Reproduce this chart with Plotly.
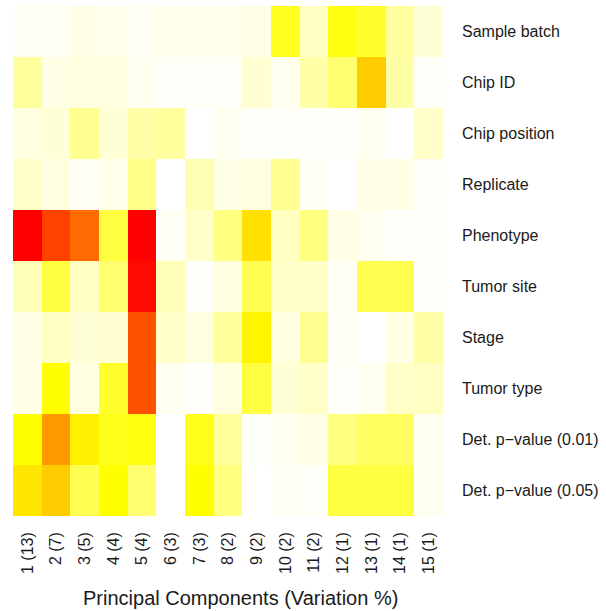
import plotly.graph_objects as go

components = ["1 (13)", "2 (7)", "3 (5)", "4 (4)", "5 (4)", "6 (3)", "7 (3)", "8 (2)",
              "9 (2)", "10 (2)", "11 (2)", "12 (1)", "13 (1)", "14 (1)", "15 (1)"]
variables = ["Sample batch", "Chip ID", "Chip position", "Replicate", "Phenotype",
             "Tumor site", "Stage", "Tumor type", "Det. p\u2212value (0.01)", "Det. p\u2212value (0.05)"]

# association strength (0 = none/white, 0.5 = yellow, 1 = red)
sample_batch = [0.02, 0.02, 0.05, 0.04, 0.02, 0.04, 0.04, 0.04, 0.05, 0.44, 0.12, 0.47, 0.41, 0.19, 0.08]
chip_id      = [0.19, 0.05, 0.06, 0.06, 0.03, 0.01, 0.01, 0.01, 0.09, 0.03, 0.17, 0.28, 0.60, 0.17, 0.01]
chip_pos     = [0.06, 0.08, 0.22, 0.08, 0.17, 0.19, 0.00, 0.03, 0.01, 0.01, 0.01, 0.01, 0.03, 0.00, 0.11]
replicate    = [0.11, 0.06, 0.02, 0.04, 0.23, 0.00, 0.15, 0.05, 0.06, 0.22, 0.02, 0.00, 0.05, 0.05, 0.01]
phenotype    = [1.00, 0.87, 0.79, 0.37, 1.00, 0.02, 0.11, 0.25, 0.56, 0.12, 0.25, 0.05, 0.03, 0.01, 0.01]
tumor_site   = [0.14, 0.37, 0.12, 0.28, 0.98, 0.14, 0.01, 0.06, 0.34, 0.11, 0.11, 0.02, 0.34, 0.34, 0.01]
stage        = [0.05, 0.12, 0.08, 0.09, 0.84, 0.11, 0.06, 0.19, 0.52, 0.06, 0.22, 0.02, 0.00, 0.05, 0.17]
tumor_type   = [0.05, 0.50, 0.06, 0.41, 0.84, 0.03, 0.01, 0.06, 0.37, 0.08, 0.11, 0.01, 0.03, 0.11, 0.12]
det_p_001    = [0.50, 0.70, 0.53, 0.45, 0.47, 0.00, 0.45, 0.20, 0.01, 0.03, 0.05, 0.25, 0.31, 0.31, 0.03]
det_p_005    = [0.55, 0.60, 0.34, 0.50, 0.28, 0.00, 0.50, 0.25, 0.00, 0.02, 0.01, 0.37, 0.37, 0.37, 0.03]

z = [sample_batch, chip_id, chip_pos, replicate, phenotype,
     tumor_site, stage, tumor_type, det_p_001, det_p_005]

font = "Liberation Sans, Arial, Helvetica, sans-serif"

fig = go.Figure(go.Heatmap(
    z=z, x=components, y=variables,
    zmin=0, zmax=1,
    colorscale=[[0, "#FFFFFF"], [0.5, "#FFFF00"], [1, "#FF0000"]],
    showscale=False, xgap=0, ygap=0,
))

fig.update_layout(
    width=606, height=611,
    margin=dict(l=13, r=163, t=6, b=95),
    paper_bgcolor="white", plot_bgcolor="white",
    font=dict(family=font, size=16, color="#1a1a1a"),
    xaxis=dict(tickangle=-90, ticks="", showgrid=False, zeroline=False,
               showline=False, ticklabelstandoff=12,
               tickfont=dict(size=16, color="#1a1a1a")),
    yaxis=dict(side="right", autorange="reversed", ticks="", showgrid=False,
               zeroline=False, showline=False, ticklabelstandoff=18,
               tickfont=dict(size=16, color="#1a1a1a")),
    annotations=[dict(text="Principal Components (Variation %)", xref="paper", yref="paper",
                      x=0.528, y=-0.161, xanchor="center", yanchor="middle",
                      showarrow=False, font=dict(size=20, color="#1a1a1a"))],
)

fig.write_html("out.html", config={"displayModeBar": False},
               post_script="document.body.style.margin='0';document.body.style.padding='0';")
